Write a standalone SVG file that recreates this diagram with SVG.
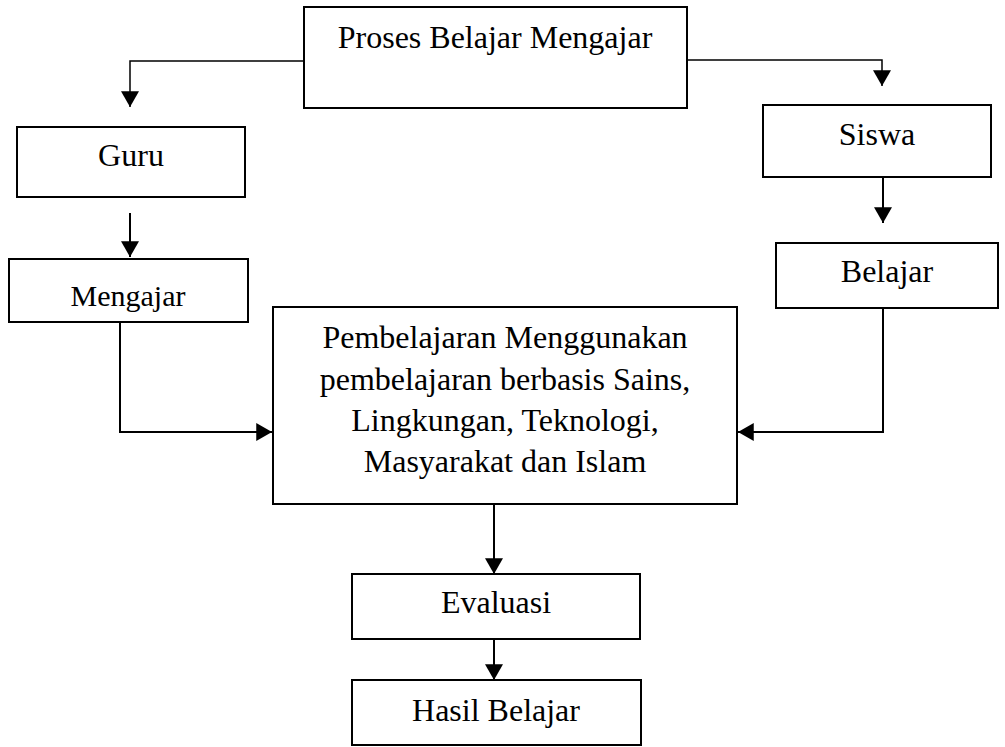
<svg xmlns="http://www.w3.org/2000/svg" width="1005" height="747" viewBox="0 0 1005 747">
<style>
.box{fill:#fff;stroke:#000;stroke-width:2}
.t{font-family:"Liberation Serif","Times New Roman",serif;font-size:32px;fill:#000;text-anchor:middle}
.c{fill:none;stroke:#000;stroke-width:2}
.thin{stroke-width:1.5}
</style>
<defs>
<marker id="ah" markerUnits="userSpaceOnUse" markerWidth="16" markerHeight="18" viewBox="0 0 14 16" refX="14" refY="8" orient="auto">
<path d="M0,0 L14,8 L0,16 z" fill="#000"/>
</marker>
</defs>
<rect width="1005" height="747" fill="#fff"/>
<g id="connectors">
<polyline class="c thin" points="304,61 130,61 130,107" marker-end="url(#ah)"/>
<polyline class="c thin" points="687,60 882,60 882,86" marker-end="url(#ah)"/>
<line class="c" x1="130" y1="213" x2="130" y2="257" marker-end="url(#ah)"/>
<line class="c" x1="883" y1="178" x2="883" y2="223" marker-end="url(#ah)"/>
<polyline class="c" points="120,322 120,432 272,432" marker-end="url(#ah)"/>
<polyline class="c" points="883,308 883,432 738,432" marker-end="url(#ah)"/>
<line class="c" x1="494" y1="504" x2="494" y2="574" marker-end="url(#ah)"/>
<line class="c" x1="494" y1="639" x2="494" y2="680" marker-end="url(#ah)"/>
</g>
<g id="proses">
<rect class="box" x="304" y="7" width="383" height="101"/>
<text class="t" x="495" y="48">Proses Belajar Mengajar</text>
</g>
<g id="guru">
<rect class="box" x="17" y="127" width="228" height="70"/>
<text class="t" x="131" y="166">Guru</text>
</g>
<g id="mengajar">
<rect class="box" x="9" y="259" width="239" height="63"/>
<text class="t" x="128" y="306" style="font-size:30px">Mengajar</text>
</g>
<g id="siswa">
<rect class="box" x="763" y="105" width="228" height="72"/>
<text class="t" x="877" y="145">Siswa</text>
</g>
<g id="belajar">
<rect class="box" x="776" y="243" width="222" height="65"/>
<text class="t" x="887" y="282">Belajar</text>
</g>
<g id="pembelajaran">
<rect class="box" x="273" y="307" width="464" height="197"/>
<text class="t" x="505" y="348">Pembelajaran Menggunakan</text>
<text class="t" x="505" y="390">pembelajaran berbasis Sains,</text>
<text class="t" x="505" y="431">Lingkungan, Teknologi,</text>
<text class="t" x="505" y="472">Masyarakat dan Islam</text>
</g>
<g id="evaluasi">
<rect class="box" x="352" y="574" width="288" height="65"/>
<text class="t" x="496" y="613">Evaluasi</text>
</g>
<g id="hasil">
<rect class="box" x="352" y="680" width="289" height="65"/>
<text class="t" x="496" y="721">Hasil Belajar</text>
</g>
</svg>
